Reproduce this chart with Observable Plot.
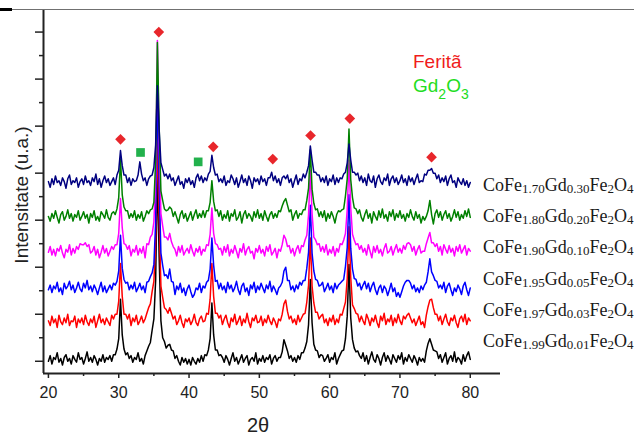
<!DOCTYPE html>
<html><head><meta charset="utf-8">
<script src="https://cdn.jsdelivr.net/npm/d3@7"></script>
<script src="https://cdn.jsdelivr.net/npm/@observablehq/plot@0.6"></script>
<style>
html,body{margin:0;padding:0;background:#fff;}
#wrap{position:relative;width:634px;height:436px;overflow:hidden;background:#fff;}
#topline{position:absolute;left:12px;top:9px;width:622px;height:0;border-top:1.5px solid #707070;}
#topmark{position:absolute;left:0;top:8px;width:12px;height:3px;background:#000;}
</style></head>
<body><div id="wrap"><div id="chart"></div><div id="topline"></div><div id="topmark"></div></div>
<script>
// scan grid (2θ, degrees), step 0.25°
const twoTheta = d3.range(241).map(i => 20 + 0.25 * i);

// sample composition parts (bottom to top)
const feIndex = ["1.99", "1.97", "1.95", "1.90", "1.80", "1.70"];
const gdIndex = ["0.01", "0.03", "0.05", "0.10", "0.20", "0.30"];
const stackOffset = [-4, 35, 70, 109, 146, 184];
const seriesColors = ["#000000", "#ff0000", "#0000ff", "#ff00ff", "#008000", "#000080"];

const intBlack = [4,10,1,8,6,13,3,7,0,8,11,4,7,1,10,6,3,13,6,8,
1,7,14,4,8,3,10,6,0,7,4,11,3,8,6,10,4,11,11,17,
28,70,32,17,11,13,7,10,3,8,6,13,4,7,1,10,15,20,24,37,
49,90,206,115,47,29,25,18,21,22,16,15,7,10,4,0,8,3,7,1,
6,0,8,4,1,7,3,10,4,11,10,16,28,66,32,16,16,10,11,8,
3,10,6,0,7,13,4,8,1,6,11,3,7,10,0,6,8,4,13,1,
7,4,10,3,8,6,11,1,7,10,4,8,8,14,27,21,15,7,10,4,
8,3,10,6,13,13,18,25,43,91,45,22,16,15,8,11,10,4,7,11,
3,8,6,13,1,7,11,15,16,28,52,107,50,27,18,14,15,10,7,13,
4,10,1,8,14,6,3,11,7,0,8,13,4,10,6,1,11,7,3,10,
6,13,1,8,4,11,7,3,10,6,0,8,4,7,3,15,23,28,22,16,
15,14,7,11,3,8,13,1,7,10,4,14,3,8,6,1,11,4,10,14,6];

const intRed = [8,3,13,6,10,1,14,7,4,11,6,15,3,8,7,13,1,10,6,11,
4,14,7,3,10,6,13,1,8,15,6,10,4,11,7,3,14,10,15,15,
29,69,34,15,15,10,15,3,11,7,14,4,8,13,6,10,16,22,26,39,
50,92,206,117,45,33,22,20,16,22,16,10,13,4,8,14,6,1,10,7,
11,4,8,15,6,3,10,13,7,8,16,15,31,69,34,16,16,11,14,4,
10,14,6,1,11,7,15,4,8,13,3,10,6,16,7,1,11,8,14,6,
7,13,3,10,6,14,8,4,11,7,1,10,8,15,26,30,18,10,13,6,
10,4,14,7,11,15,16,28,46,96,45,27,17,17,10,13,15,6,10,3,
11,7,14,4,10,6,15,14,21,28,53,108,54,25,21,16,15,7,13,8,
4,15,10,3,11,7,14,6,1,13,8,16,4,10,7,14,3,11,6,15,
8,4,13,10,14,16,11,6,10,3,8,13,4,7,1,14,23,30,31,22,
15,15,8,13,4,10,15,7,3,11,8,14,6,1,10,13,7,15,4,11,8];

const intBlue = [6,11,3,10,7,14,4,8,1,13,7,10,15,6,11,3,8,14,7,4,
13,8,16,6,10,4,11,7,1,8,14,4,10,3,7,11,6,13,11,15,
26,64,29,17,13,14,6,11,7,14,4,8,13,6,10,3,14,15,20,24,
33,77,219,118,45,32,21,22,18,28,15,14,1,10,6,13,3,8,0,7,
11,4,-2,1,8,6,13,3,10,8,14,16,28,61,32,15,16,7,13,6,
10,3,14,7,11,4,8,15,6,1,10,13,4,8,0,11,7,14,3,10,
6,13,8,3,11,7,15,4,10,6,1,8,10,14,26,30,16,16,6,10,
4,11,7,14,11,16,16,29,46,96,45,26,17,16,10,11,14,4,8,13,
6,10,3,13,7,11,13,15,17,31,51,107,50,28,18,17,10,13,6,11,
15,7,13,4,10,14,6,1,8,11,3,10,7,0,6,13,4,8,-1,3,
-2,4,10,14,16,16,13,7,11,4,8,3,10,6,11,14,25,39,25,21,
16,15,8,11,7,14,3,10,13,6,0,8,4,11,7,1,10,14,6,0,8];

const intMagenta = [7,13,4,10,3,11,8,14,6,1,10,7,15,4,11,6,13,10,16,15,
15,17,13,15,6,8,13,4,10,1,7,14,6,11,3,8,13,10,15,15,
27,64,33,16,15,10,14,3,10,7,14,4,11,6,13,1,16,15,23,26,
39,85,232,123,48,35,23,23,20,27,18,13,10,3,13,7,14,4,8,11,
6,15,8,3,11,7,13,4,10,8,15,14,26,54,27,16,15,10,11,4,
13,7,15,3,10,6,14,8,1,11,7,16,4,10,13,6,8,0,11,7,
14,6,10,3,13,8,15,4,7,11,1,10,8,15,25,21,13,14,6,11,
3,10,14,6,14,13,20,25,47,94,48,23,20,15,16,8,13,7,15,4,
10,6,13,3,11,7,16,15,20,27,52,105,54,26,20,15,16,10,14,7,
11,4,15,8,1,13,7,14,6,10,3,11,16,6,8,13,4,10,15,7,
11,6,14,10,16,17,15,8,13,4,10,14,6,8,8,16,22,28,17,17,
13,16,8,13,4,15,10,6,14,7,11,3,13,8,15,6,10,14,4,11,8];

const intGreen = [8,3,11,6,14,7,1,10,13,4,8,15,6,11,3,10,7,14,4,8,
13,6,10,1,11,7,14,4,8,3,13,10,6,15,7,4,11,13,10,16,
28,69,31,18,14,14,6,11,7,14,4,10,6,13,3,8,14,11,15,16,
23,66,193,103,35,25,16,14,15,18,16,8,13,7,1,10,14,6,11,3,
8,13,4,10,15,6,11,7,14,7,14,14,23,46,24,14,15,8,14,4,
10,6,14,3,11,8,15,4,7,13,1,10,14,6,11,8,3,13,7,15,
6,11,4,14,8,3,10,13,6,11,7,14,13,19,24,27,20,13,15,4,
10,14,6,11,10,15,15,25,38,79,37,22,15,16,8,13,7,14,3,11,
6,13,8,1,10,14,13,15,16,30,48,101,47,28,17,16,11,15,7,3,
10,15,6,11,1,13,8,4,14,7,16,6,10,3,13,8,15,4,11,7,
14,6,10,3,11,7,15,8,4,13,6,10,1,8,4,8,14,25,10,0,
11,15,7,13,4,10,14,6,11,3,8,15,7,13,4,10,6,14,8,16,7];

const intNavy = [7,1,10,4,13,6,8,3,11,7,0,10,14,4,8,6,11,1,7,10,
4,13,6,8,3,11,7,15,4,10,1,8,13,6,10,3,7,11,4,14,
19,40,24,14,14,6,11,3,10,7,8,14,28,15,8,11,3,10,13,14,
22,46,109,62,27,20,13,15,10,15,8,11,3,8,13,4,7,0,10,6,
11,4,8,1,11,15,8,13,6,11,8,15,18,35,22,14,15,7,10,6,
13,3,8,6,14,10,4,11,1,7,14,6,10,3,13,8,0,11,7,10,
4,13,7,10,3,11,11,17,8,13,6,10,3,11,13,10,14,6,10,1,
8,14,4,10,8,15,11,17,24,45,30,17,17,14,14,7,11,6,13,3,
10,7,14,4,11,6,11,10,15,17,27,47,30,17,17,14,16,8,13,6,
11,3,15,8,6,13,1,10,14,7,4,11,8,15,3,10,13,6,11,4,
8,14,6,10,3,13,7,11,4,10,15,6,8,7,15,14,19,19,21,16,
16,10,14,6,11,7,13,3,10,14,6,8,1,11,7,4,10,3,8,1,6];

// peak markers
const ferriteX = [30.25, 35.7, 43.44, 51.91, 57.28, 62.87, 74.49];
const ferriteY = [236, 350, 228, 215, 240, 258, 217];
const gdOxideX = [33.1, 41.3];
const gdOxideY = [222, 212];

// axis ticks
const xMajor = [20, 30, 40, 50, 60, 70, 80];
const xMinor = [25, 35, 45, 55, 65, 75];
const yMajor = [0, 50, 100, 150, 200, 250, 300, 350];
const yMinor = [25, 75, 125, 175, 225, 275, 325];
const xDomain = [19.3, 84.3];
const yDomain = [-13, 374];

const intensities = [intBlack, intRed, intBlue, intMagenta, intGreen, intNavy];
const seriesRows = intensities.map((vals, k) =>
  twoTheta.map((t, i) => ({x: t, y: stackOffset[k] + vals[i]})));
const ferriteRows = ferriteX.map((x, i) => ({x, y: ferriteY[i]}));
const gdRows = gdOxideX.map((x, i) => ({x, y: gdOxideY[i]}));

const noText = () => "";
const plot = Plot.plot({
  width: 634, height: 436,
  marginLeft: 43, marginRight: 134, marginTop: 9, marginBottom: 63,
  x: {domain: xDomain},
  y: {domain: yDomain},
  style: {fontFamily: "'Liberation Sans', Arial, sans-serif", color: "#222", background: "#fff", overflow: "visible"},
  marks: [
    ...seriesRows.map((rows, k) => Plot.line(rows, {x: "x", y: "y", stroke: seriesColors[k], strokeWidth: 1.5})),
    Plot.dot(ferriteRows, {x: "x", y: "y", symbol: "diamond2", r: 4.8, fill: "#e8262b"}),
    Plot.dot(gdRows, {x: "x", y: "y", symbol: "square", r: 4.9, fill: "#22b14c"}),
    Plot.axisX(xMajor, {anchor: "bottom", tickSize: 5, tickPadding: 8, fontSize: 16, label: null, strokeWidth: 1.5}),
    Plot.axisX(xMinor, {anchor: "bottom", tickSize: 3, tickFormat: noText, label: null, strokeWidth: 1.5}),
    Plot.axisY(yMajor, {anchor: "left", tickSize: 8, tickFormat: noText, label: null, strokeWidth: 1.5}),
    Plot.axisY(yMinor, {anchor: "left", tickSize: 4, tickFormat: noText, label: null, strokeWidth: 1.5}),
    Plot.ruleY([yDomain[0]], {stroke: "#222", strokeWidth: 2}),
    Plot.ruleX([xDomain[0]], {stroke: "#222", strokeWidth: 2})
  ]
});
document.getElementById("chart").appendChild(plot);

const svg = d3.select(plot);
// axis titles
svg.append("text").attr("x", 258).attr("y", 432).attr("text-anchor", "middle")
  .attr("font-size", 20).attr("fill", "#222").text("2θ");
svg.append("text").attr("transform", "translate(28,195) rotate(-90)").attr("text-anchor", "middle")
  .attr("font-size", 19).attr("fill", "#222").text("Intensitate (u.a.)");

// legend
svg.append("text").attr("x", 413).attr("y", 68).attr("text-anchor", "start")
  .attr("font-size", 19).attr("fill", "#f01c1c").text("Feritã");
const gd = svg.append("text").attr("x", 413).attr("y", 92).attr("text-anchor", "start")
  .attr("font-size", 19).attr("fill", "#22dd22");
gd.append("tspan").text("Gd");
gd.append("tspan").attr("font-size", 14).attr("dy", 7).text("2");
gd.append("tspan").attr("dy", -7).text("O");
gd.append("tspan").attr("font-size", 14).attr("dy", 7).text("3");

// sample labels
const lab = svg.append("g").attr("font-family", "'Liberation Serif', 'Times New Roman', serif")
  .attr("font-size", 18).attr("fill", "#1a1a1a").attr("text-anchor", "start");
feIndex.forEach((fe, k) => {
  const t = lab.append("text").attr("x", 483).attr("y", 347.3 - 31.3 * k);
  const parts = [["CoFe", 0], [fe, 1], ["Gd", 0], [gdIndex[k], 1], ["Fe", 0], ["2", 1], ["O", 0], ["4", 1]];
  parts.forEach(([s, sub], j) => {
    const sp = t.append("tspan").text(s);
    if (sub) sp.attr("font-size", 13).attr("dy", 2);
    else if (j > 0) sp.attr("dy", -2);
  });
});
</script></body></html>
